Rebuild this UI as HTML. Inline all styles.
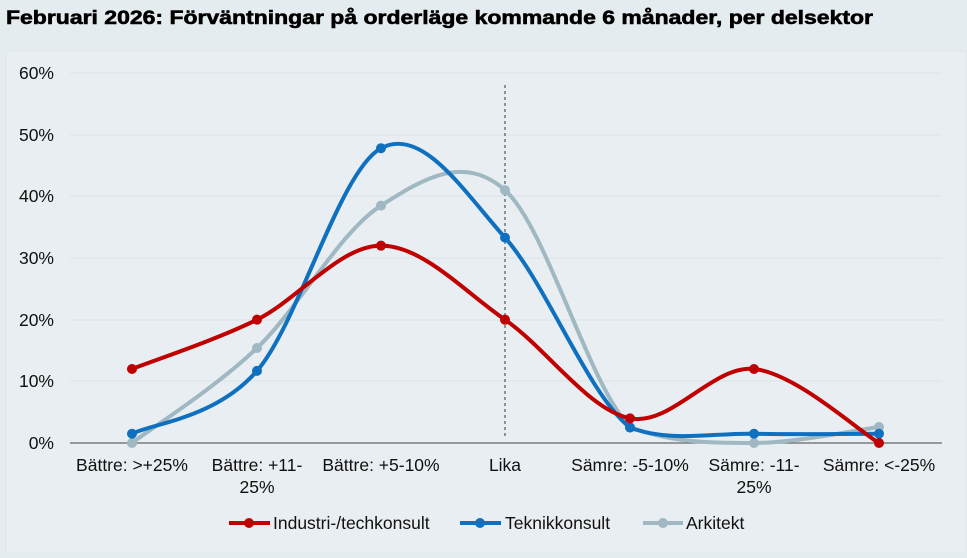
<!DOCTYPE html><html><head><meta charset="utf-8"><style>
body{margin:0;width:967px;height:553px;background:#e4ecef;overflow:hidden;font-family:"Liberation Sans",sans-serif}
</style></head><body>
<svg width="967" height="553" xmlns="http://www.w3.org/2000/svg" font-family="Liberation Sans, sans-serif">
<text x="6" y="24" font-size="19.5" font-weight="bold" fill="#000" stroke="#000" stroke-width="0.6" textLength="867" lengthAdjust="spacingAndGlyphs">Februari 2026: Förväntningar på orderläge kommande 6 månader, per delsektor</text>
<rect x="6" y="51" width="961" height="502" fill="#e8eef1" stroke="#dfe5e8"/>
<g stroke="#dde4e7" stroke-width="1">
<line x1="70" x2="942" y1="73" y2="73"/><line x1="70" x2="942" y1="135" y2="135"/><line x1="70" x2="942" y1="196" y2="196"/><line x1="70" x2="942" y1="258" y2="258"/><line x1="70" x2="942" y1="320" y2="320"/><line x1="70" x2="942" y1="381" y2="381"/></g>
<line x1="70" x2="942" y1="443" y2="443" stroke="#666" stroke-width="1.3"/>
<line x1="505" x2="505" y1="85" y2="437" stroke="#333" stroke-dasharray="3,3"/>
<g font-size="17.5" fill="#111" text-anchor="end">
<text x="54" y="79">60%</text><text x="54" y="141">50%</text><text x="54" y="202">40%</text><text x="54" y="264">30%</text><text x="54" y="326">20%</text><text x="54" y="387">10%</text><text x="54" y="449">0%</text></g>
<g font-size="17.5" fill="#111" text-anchor="middle">
<text x="132" y="471">Bättre: &gt;+25%</text>
<text x="257" y="471">Bättre: +11-</text><text x="257" y="493">25%</text>
<text x="381" y="471">Bättre: +5-10%</text>
<text x="505" y="471">Lika</text>
<text x="630" y="471">Sämre: -5-10%</text>
<text x="754" y="471">Sämre: -11-</text><text x="754" y="493">25%</text>
<text x="879" y="471">Sämre: &lt;-25%</text></g>
<g id="series"></g>
<g font-size="17.5" fill="#111">
<line x1="229" x2="270" y1="523" y2="523" stroke="#c00000" stroke-width="4"/><circle cx="249" cy="523" r="5" fill="#c00000"/><text x="273" y="529">Industri-/techkonsult</text>
<line x1="460" x2="501" y1="523" y2="523" stroke="#0f70c0" stroke-width="4"/><circle cx="480" cy="523" r="5" fill="#0f70c0"/><text x="505" y="529">Teknikkonsult</text>
<line x1="643" x2="683" y1="523" y2="523" stroke="#9fb8c2" stroke-width="4"/><circle cx="663" cy="523" r="5" fill="#9fb8c2"/><text x="686" y="529">Arkitekt</text></g>
</svg>
<script>
var xs=[132,257,381,505,630,754,879];
function y(v){return 443-v*6.1667;}
var S=[["#9fb8c2",[0,15.4,38.5,41,2.6,0,2.6]],["#0f70c0",[1.5,11.7,47.8,33.3,2.5,1.5,1.5]],["#c00000",[12,20,32,20,4,12,0]]];
var g=document.getElementById("series"),h="";
S.forEach(function(s){var p=xs.map(function(x,i){return[x,y(s[1][i])]});
var d="M"+p[0][0]+","+p[0][1];
for(var i=0;i<p.length-1;i++){var p0=p[i-1]||p[i],p1=p[i],p2=p[i+1],p3=p[i+2]||p2;
var c1=[p1[0]+(p2[0]-p0[0])/6,Math.min(443,p1[1]+(p2[1]-p0[1])/6)],c2=[p2[0]-(p3[0]-p1[0])/6,Math.min(443,p2[1]-(p3[1]-p1[1])/6)];
d+=" C"+c1+" "+c2+" "+p2;}
h+='<path d="'+d+'" fill="none" stroke="'+s[0]+'" stroke-width="4"/>';
p.forEach(function(q){h+='<circle cx="'+q[0]+'" cy="'+q[1]+'" r="5" fill="'+s[0]+'"/>'});});
g.innerHTML=h;
</script>
</body></html>
